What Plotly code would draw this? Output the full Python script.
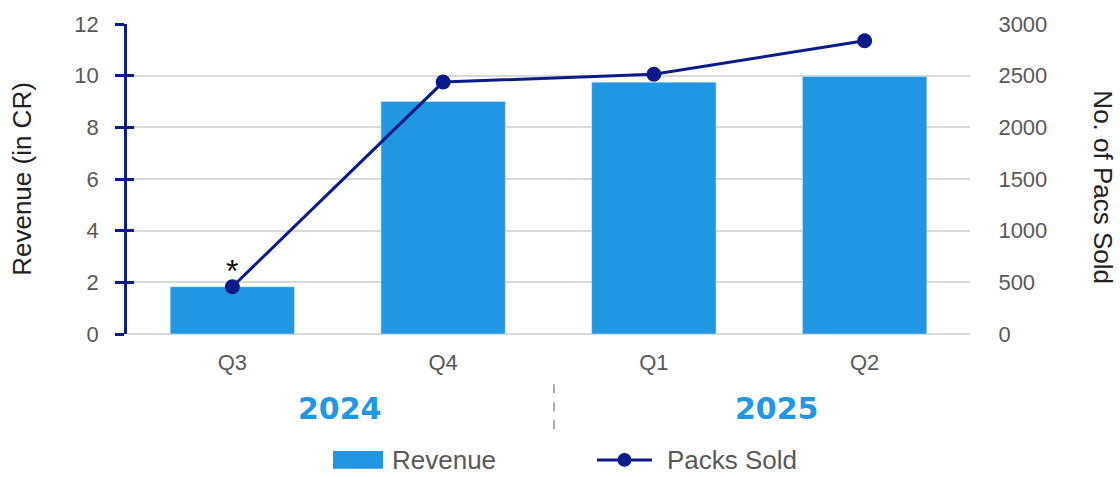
import plotly.graph_objects as go

quarters = ["Q3", "Q4", "Q1", "Q2"]
revenue = [1.83, 9.0, 9.75, 9.97]
packs_sold = [457, 2438, 2514, 2838]
years = ["2024", "2025"]

BAR = "#2196e3"
NAVY = "#0b1b8a"
GREY = "#595959"
FONT = "Liberation Sans, Arial, sans-serif"

fig = go.Figure()
fig.add_trace(go.Bar(x=quarters, y=revenue, name="Revenue", marker_color=BAR,
                     yaxis="y", showlegend=False))
fig.add_trace(go.Scatter(x=quarters, y=packs_sold, name="Packs Sold", mode="lines+markers",
                         line=dict(color=NAVY, width=3), marker=dict(color=NAVY, size=15),
                         yaxis="y2", showlegend=False))
# helper trace to activate yaxis3 (inner tick marks)
fig.add_trace(go.Scatter(x=[quarters[0]], y=[0], yaxis="y3", mode="markers",
                         marker=dict(opacity=0), showlegend=False, hoverinfo="skip"))

fig.update_layout(
    width=1120, height=477,
    margin=dict(l=127, r=150, t=19, b=143),
    plot_bgcolor="white", paper_bgcolor="white",
    bargap=0.41,
    font=dict(family=FONT, color=GREY, size=21),
    xaxis=dict(showline=False, showgrid=False, ticks="", tickfont=dict(size=22, color=GREY),
               ticklabelstandoff=13),
    yaxis=dict(range=[0, 12], dtick=2, showgrid=True, gridcolor="#d9d9d9", gridwidth=2,
               zeroline=True, zerolinecolor="#d9d9d9", zerolinewidth=2,
               showline=True, linecolor=NAVY, linewidth=2.5,
               ticks="outside", ticklen=9, tickwidth=2.5, tickcolor=NAVY,
               tickfont=dict(size=22, color=GREY), ticklabelstandoff=12,
               title=dict(text="Revenue (in CR)", font=dict(size=26, color="#222222"), standoff=36)),
    yaxis2=dict(range=[0, 3000], dtick=500, overlaying="y", side="right", showgrid=False,
                zeroline=False, showline=False, ticks="outside", ticklen=18, tickcolor="rgba(0,0,0,0)",
                tickfont=dict(size=22, color=GREY), ticklabelstandoff=5),
    yaxis3=dict(range=[0, 12], dtick=2, overlaying="y", side="left", showgrid=False,
                zeroline=False, showline=False, ticks="inside", ticklen=7, tickwidth=2.5,
                tickcolor=NAVY, showticklabels=False),
)


def px_x(p):
    return (p - 127) / 843


def px_y(p):
    return (334 - p) / 315


annotations = [
    dict(x=quarters[0], y=packs_sold[0], xref="x", yref="y2", text="*", showarrow=False,
         yshift=16, font=dict(size=32, color="black")),
    dict(x=px_x(340), y=px_y(410), xref="paper", yref="paper", text="<b>" + years[0] + "</b>",
         showarrow=False, font=dict(size=30, color=BAR, family="DejaVu Sans"), xanchor="center", yanchor="middle"),
    dict(x=px_x(777), y=px_y(410), xref="paper", yref="paper", text="<b>" + years[1] + "</b>",
         showarrow=False, font=dict(size=30, color=BAR, family="DejaVu Sans"), xanchor="center", yanchor="middle"),
    dict(x=px_x(1103), y=px_y(185), xref="paper", yref="paper", text="No. of Pacs Sold",
         showarrow=False, textangle=90, font=dict(size=26, color="#222222"), xanchor="center", yanchor="middle"),
    dict(x=px_x(390), y=px_y(462), xref="paper", yref="paper", text="Revenue",
         showarrow=False, xanchor="left", yanchor="middle", font=dict(size=26, color=GREY)),
    dict(x=px_x(665), y=px_y(462), xref="paper", yref="paper", text="Packs Sold",
         showarrow=False, xanchor="left", yanchor="middle", font=dict(size=26, color=GREY)),
]
fig.update_layout(annotations=annotations)

shapes = [
    dict(type="line", xref="paper", yref="paper", x0=px_x(554), x1=px_x(554), y0=px_y(385), y1=px_y(435),
         line=dict(color="#aaaaaa", width=2, dash="dash")),
    dict(type="rect", xref="paper", yref="paper", x0=px_x(333), x1=px_x(383), y0=px_y(453), y1=px_y(471),
         fillcolor=BAR, line=dict(width=0)),
    dict(type="line", xref="paper", yref="paper", x0=px_x(597), x1=px_x(652), y0=px_y(462), y1=px_y(462),
         line=dict(color=NAVY, width=3)),
    dict(type="circle", xref="paper", yref="paper", x0=px_x(617.5), x1=px_x(631.5), y0=px_y(455), y1=px_y(469),
         fillcolor=NAVY, line=dict(width=0)),
]
fig.update_layout(shapes=shapes)

fig.write_html("out.html", config={"displayModeBar": False},
               post_script="document.body.style.margin='0';document.body.style.overflow='hidden';")
